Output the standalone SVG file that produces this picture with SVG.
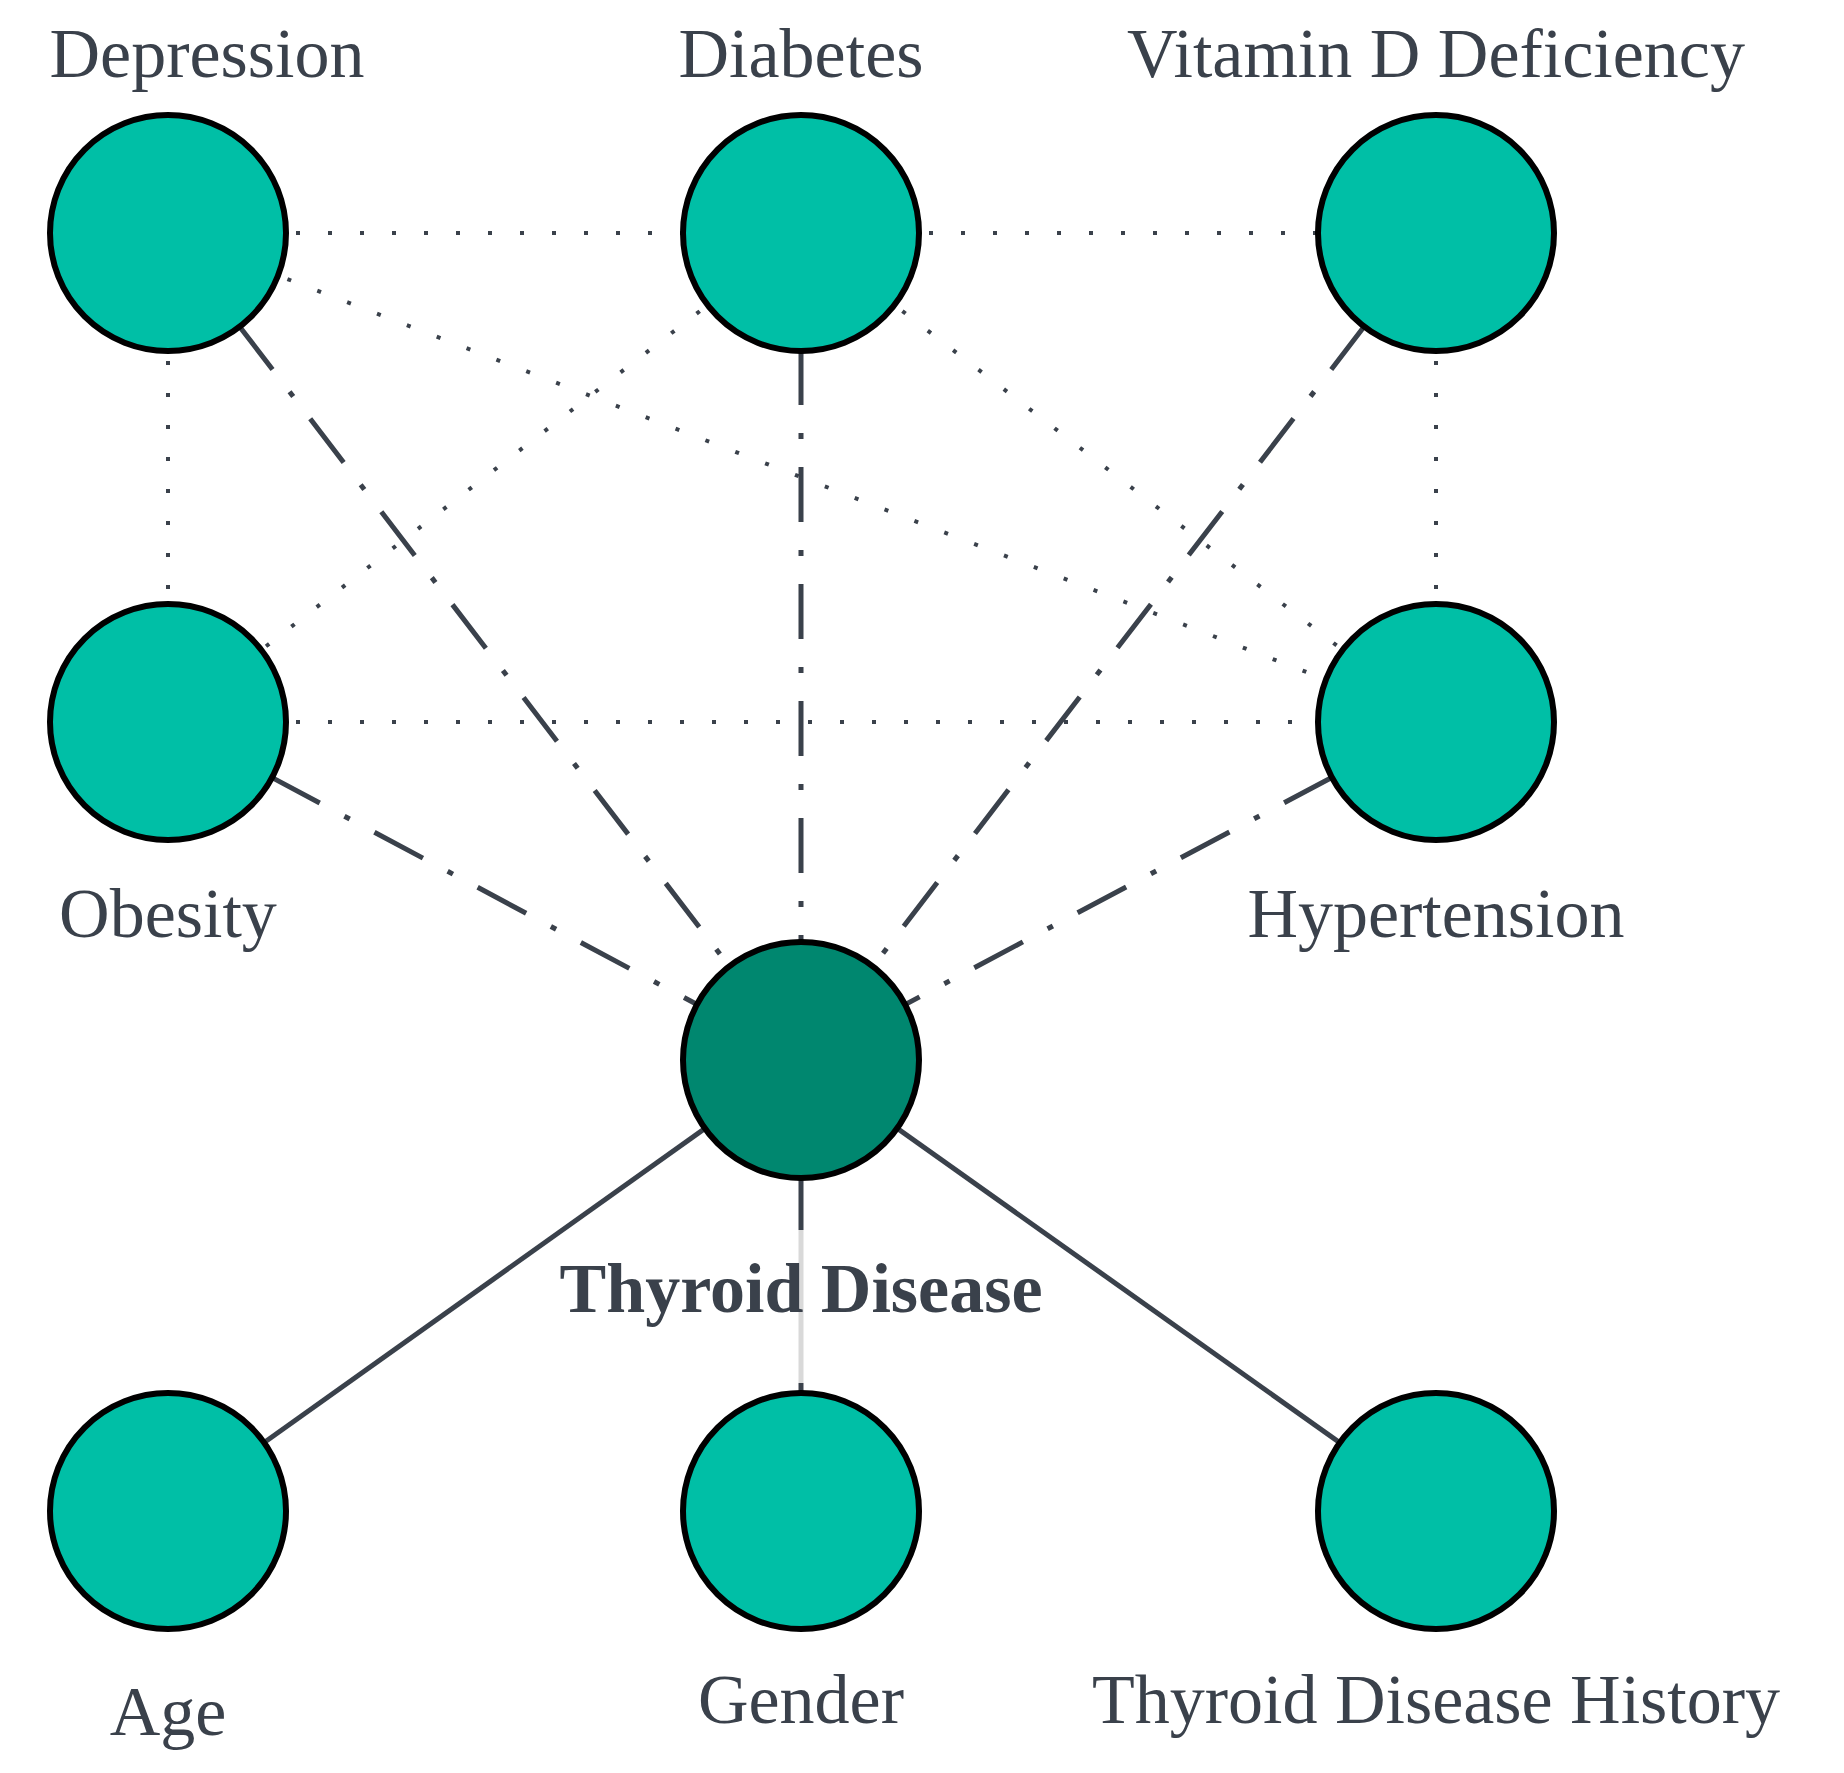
<svg xmlns="http://www.w3.org/2000/svg" width="1844" height="1773" viewBox="0 0 1844 1773">
<style>
.n{fill:#00bfa6;stroke:#000;stroke-width:6}
.t{fill:#00876f;stroke:#000;stroke-width:6}
.l{font-family:"Liberation Serif",serif;font-size:70px;fill:#3a414b;text-anchor:middle}
.d{stroke:#3a414b;stroke-width:4;stroke-dasharray:4 28;fill:none}
.dd{stroke:#3a414b;stroke-width:5;stroke-dasharray:55 28 6 28;fill:none}
.s{stroke:#3a414b;stroke-width:5;fill:none}
</style>
<rect width="1844" height="1773" fill="#fff"/>
<g id="edges">
<line class="d" x1="168" y1="233" x2="801" y2="233"/>
<line class="d" x1="801" y1="233" x2="1436" y2="233"/>
<line class="d" x1="168" y1="233" x2="168" y2="722"/>
<line class="d" x1="168" y1="233" x2="1436" y2="722"/>
<line class="d" x1="801" y1="233" x2="168" y2="722"/>
<line class="d" x1="801" y1="233" x2="1436" y2="722"/>
<line class="d" x1="1436" y1="233" x2="1436" y2="722"/>
<line class="d" x1="168" y1="722" x2="1436" y2="722"/>
<line class="dd" x1="168" y1="233" x2="801" y2="1060"/>
<line class="dd" x1="801" y1="233" x2="801" y2="1060"/>
<line class="dd" x1="1436" y1="233" x2="801" y2="1060"/>
<line class="dd" x1="168" y1="722" x2="801" y2="1060"/>
<line class="dd" x1="1436" y1="722" x2="801" y2="1060"/>
<line class="s" x1="801" y1="1060" x2="168" y2="1511"/>
<line class="s" x1="801" y1="1060" x2="1436" y2="1511"/>
<line class="s" x1="801" y1="1060" x2="801" y2="1230"/>
<line stroke="#d9d9d9" stroke-width="5" x1="801" y1="1230" x2="801" y2="1383"/>
<line class="s" x1="801" y1="1383" x2="801" y2="1511"/>
</g>
<g id="depression"><circle class="n" cx="168" cy="233" r="118"/><text class="l" x="207" y="77">Depression</text></g>
<g id="diabetes"><circle class="n" cx="801" cy="233" r="118"/><text class="l" x="801" y="77">Diabetes</text></g>
<g id="vitamin-d"><circle class="n" cx="1436" cy="233" r="118"/><text class="l" x="1436" y="77">Vitamin D Deficiency</text></g>
<g id="obesity"><circle class="n" cx="168" cy="722" r="118"/><text class="l" x="168" y="937">Obesity</text></g>
<g id="hypertension"><circle class="n" cx="1436" cy="722" r="118"/><text class="l" x="1436" y="937">Hypertension</text></g>
<g id="thyroid"><circle class="t" cx="801" cy="1060" r="118"/><text class="l" x="801" y="1312" font-weight="bold">Thyroid Disease</text></g>
<g id="age"><circle class="n" cx="168" cy="1511" r="118"/><text class="l" x="168" y="1735">Age</text></g>
<g id="gender"><circle class="n" cx="801" cy="1511" r="118"/><text class="l" x="801" y="1723">Gender</text></g>
<g id="history"><circle class="n" cx="1436" cy="1511" r="118"/><text class="l" x="1436" y="1723">Thyroid Disease History</text></g>
</svg>
